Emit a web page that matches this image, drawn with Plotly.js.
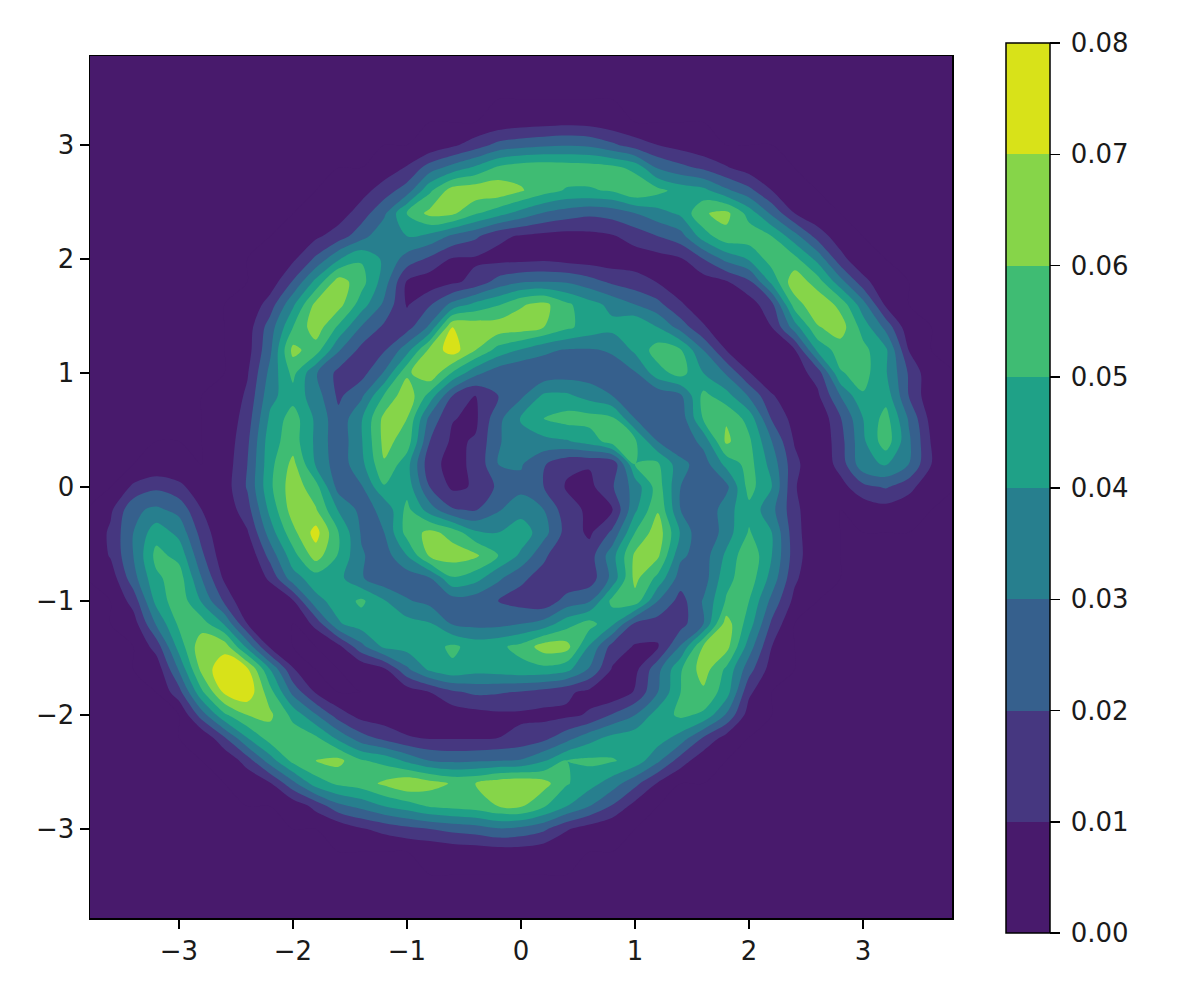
<!DOCTYPE html>
<html>
<head>
<meta charset="utf-8">
<script src="https://cdn.plot.ly/plotly-3.0.1.min.js"></script>
<style>html,body{margin:0;padding:0;background:#fff}</style>
</head>
<body>
<div id="graph" style="width:1196px;height:997px"></div>
<script>
// density, in units of 0.01
const xGrid = [-3.8,-3.6,-3.4,-3.2,-3,-2.8,-2.6,-2.4,-2.2,-2,-1.8,-1.6,-1.4,-1.2,-1,-0.8,-0.6,-0.4,-0.2,0,0.2,0.4,0.6,0.8,1,1.2,1.4,1.6,1.8,2,2.2,2.4,2.6,2.8,3,3.2,3.4,3.6,3.8];
const yGrid = [3.8,3.6,3.4,3.2,3,2.8,2.6,2.4,2.2,2,1.8,1.6,1.4,1.2,1,0.8,0.6,0.4,0.2,0,-0.2,-0.4,-0.6,-0.8,-1,-1.2,-1.4,-1.6,-1.8,-2,-2.2,-2.4,-2.6,-2.8,-3,-3.2,-3.4,-3.6,-3.8];
const density = [
[0,0,0,0,0,0,0,0,0,0,0,0,0,0,0,0,0,0,0,0,0,0,0,0,0,0,0,0,0,0,0,0,0,0,0,0,0,0,0],
[0,0,0,0,0,0,0,0,0,0,0,0,0,0,0,0,0,0,0,0,0,0,0,0,0,0,0,0,0,0,0,0,0,0,0,0,0,0,0],
[0,0,0,0,0,0,0,0,0,0,0,0,0,0,0,0,0,0,0,0,0,0,0,0,0,0,0,0,0,0,0,0,0,0,0,0,0,0,0],
[0,0,0,0,0,0,0,0,0,0,0,0,0,0,0,0,0,0,.3,.5,.6,.7,.6,.3,0,0,0,0,0,0,0,0,0,0,0,0,0,0,0],
[0,0,0,0,0,0,0,0,0,0,0,0,0,0,0,.2,.8,1.5,2.3,2.6,2.8,2.9,2.8,2.2,1.5,1,.6,.2,0,0,0,0,0,0,0,0,0,0,0],
[0,0,0,0,0,0,0,0,0,0,0,0,0,.4,1.1,2.5,3.4,4.2,5.2,5.6,5.7,5.6,5.5,5.3,4.7,2.9,2.3,1.8,1.1,.5,.1,0,0,0,0,0,0,0,0],
[0,0,0,0,0,0,0,0,0,0,0,.1,.6,1.5,2.5,4.8,6.5,6.7,6.7,6.1,5.4,4.9,4.9,5.1,5.9,5.3,4.6,4.3,3.2,2.3,1,.3,0,0,0,0,0,0,0],
[0,0,0,0,0,0,0,0,0,0,.1,.5,1.5,2.8,5.1,6.3,6.2,5.1,4.4,3.6,2.9,2.5,2.2,2.4,3,3.6,4.2,5.9,6.3,4.6,2.8,1,.2,0,0,0,0,0,0],
[0,0,0,0,0,0,0,0,0,.1,.8,1.5,2.6,3.8,4,3.7,2.8,2.2,1.2,.9,.7,.6,.7,.9,1.4,2,2.6,4.5,5.7,5.6,5,3.4,1.6,.4,0,0,0,0,0],
[0,0,0,0,0,0,0,0,.1,.8,2.2,3.9,4.9,3.8,2.6,1.8,.9,.85,.7,.7,.8,.6,.5,.4,.5,.6,.9,2,3.3,4.1,5.5,5.3,3.7,1.4,.1,0,0,0,0],
[0,0,0,0,0,0,0,0,.4,2.1,4.3,6.5,5.4,3.5,.9,.4,.8,1.3,2.4,2.9,3,2.9,2.4,1.8,1.4,.95,.5,.5,.9,1.8,4.3,6.7,5.5,3.4,1.4,.1,0,0,0],
[0,0,0,0,0,0,0,.1,1.5,3.8,6.3,6.4,4.5,2.8,.9,1.9,3.3,4.3,4.9,5.9,6.3,5.2,4.4,3.7,3,2.3,1.1,.5,.3,.5,1.7,5.5,6.8,5.7,3.4,.8,0,0,0],
[0,0,0,0,0,0,0,.5,2.5,5,6.6,4.8,2.9,1.8,1.6,3.2,7,6.7,6.6,6.5,6,5.2,4.6,4.3,5,4,2.6,1.1,.4,.2,1,3.5,5.9,6.5,4.6,2.7,.3,0,0],
[0,0,0,0,0,0,0,.6,2.8,6.3,5.5,3.1,1.7,1.9,3.6,6.3,7.5,6,4.6,3.9,3.2,2.9,2.9,3.1,4.2,5.5,5.1,3,1,.3,.2,.9,4.2,5.5,5.3,4.2,1,0,0],
[0,0,0,0,0,0,0,.9,3.3,5.3,3.1,1.7,1.6,3.1,5.8,6.8,4.9,3.3,2.4,2,2.3,2.5,2.5,2.6,2.9,4.6,5.4,4,2.9,1.05,.2,.5,1.4,4.9,5.4,4.1,1.9,.2,0],
[0,0,0,0,0,0,.1,1.2,3.7,4.6,3.5,1.8,2.8,5.1,6.7,4.6,2,1,2,2.8,4.2,4.2,3.6,3,2.5,2.3,2.8,5.3,4.4,2.9,1.1,.3,.8,3,4.9,4.6,2,.2,0],
[0,0,0,0,0,0,.2,1.5,4.2,5.5,3.8,2.3,3.9,6.3,6,2.7,1.05,.8,2.7,4.1,5,5.4,5.4,5.2,3,2.4,2.4,5.1,5.9,4.6,1.9,.6,.1,1.9,4,5.4,2.9,.6,0],
[0,0,0,0,0,0,.3,1.8,4.6,5.5,3.8,2.3,3.9,6.3,5.6,2,.8,1.1,2.9,3.6,3.7,3.9,4.4,5.5,5.2,3,2.3,3.3,6.2,5.2,3,.9,.05,1.6,3.8,5.6,3.2,.9,0],
[0,0,0,.1,.05,0,.4,2,4.7,6.3,3.9,2.4,3.7,5.9,4.4,1.3,.7,1.2,3,3.1,2.1,1.2,1.1,1.15,5,5.2,3.3,2.5,4.3,5.4,3.6,1.3,.1,1.4,3.7,4.1,3,1,0],
[0,0,1.2,1.8,1.3,.3,.5,2.1,4.8,6.6,5.4,2.6,2.9,4.9,4.6,2,.8,1.1,2.2,2.7,2,.9,.7,1.9,3.4,5.5,3,2.3,2.7,5.4,4,1.1,.05,.6,1.7,2.1,1.4,.1,0],
[0,.8,2.8,3.2,2.7,1,.3,1.6,4.3,6.5,6.1,3.9,2.7,3.2,5.3,3.5,2.1,1.9,2.9,3.6,3,1.4,.8,.95,3.8,5.9,3,2,3.6,4.7,3.3,1.3,.1,0,.3,.6,.2,0,0],
[0,1.2,3,4.6,3.7,1.6,.1,.9,3.5,5.7,7.4,5,2.9,3,5.4,6.3,5.6,4.2,4,4.6,3.4,1.6,.8,2.2,5,6.6,3.9,2,3.5,5.1,4,1.4,.1,0,0,0,0,0,0],
[0,1.1,3,5.3,4.7,2.2,.3,.1,2.4,4.6,6.5,4.9,3.1,2.5,4,6.2,6.5,6.2,5,3.8,2.2,1.1,1.5,3.6,6.2,6.2,3.2,2.5,4.2,5.8,4,1.5,.1,0,0,0,0,0,0],
[0,.4,2.6,4.8,5.5,3,.8,0,1.2,3.6,4.5,4.3,3.1,2.3,2.4,2.9,4.9,4.4,3.2,2.2,1.6,1.2,1.4,3.3,6.3,4.7,2.5,2.5,4.7,5.6,3.6,1.2,.05,0,0,0,0,0,0],
[0,0,1.4,4.3,5.7,3.9,1.8,0,.1,.9,3.7,4.4,5.2,4.1,3.1,2.7,2.5,2.4,2,1.6,1.3,2.4,2.9,5.3,5.6,3,1.6,3.1,5.1,5,2.7,.7,0,0,0,0,0,0,0],
[0,0,.5,3.1,5.2,5.5,3.9,1,.1,0,1.3,3.9,4.5,4.6,4.4,4.1,2.9,2.7,2.7,3,3.4,4.6,5.4,4.2,1.8,1.5,1.6,3,6.5,4.5,1.8,0,0,0,0,0,0,0,0],
[0,0,0,1.4,4.4,6.7,6.6,3.7,.8,0,0,.7,2.7,4.2,4.4,4.6,5.2,4.6,4.8,5.3,6.5,6.4,3.9,1.6,.9,.9,3.1,6.1,6.4,3.5,1,0,0,0,0,0,0,0,0],
[0,0,0,.3,3.1,6.3,7.8,7.2,4,1.1,0,0,.1,.8,2.8,4.2,4.8,4.4,4.5,4.7,4.7,4.3,2.9,.9,.7,2.7,4.9,6.5,4.8,2.4,.5,0,0,0,0,0,0,0,0],
[0,0,0,0,1.6,4.8,7.2,7.7,5.4,2.7,.9,0,0,0,.4,1,1.8,2.2,2.1,1.9,1.6,1.2,.7,.2,1.1,3,5,5.8,4.5,1.2,0,0,0,0,0,0,0,0,0],
[0,0,0,0,0,2.5,4.8,6,6.2,4.7,3.1,1.5,.6,.4,.3,.3,.4,.6,.8,.8,.7,.8,1.1,2.1,3,4.5,5.2,4.8,2.9,.5,0,0,0,0,0,0,0,0,0],
[0,0,0,0,0,.1,1.9,4,5.5,5.6,5.2,3.7,2.4,1.7,1.1,.9,.9,.9,1,1.3,1.7,2.6,3.6,4.3,4.6,4.5,3.6,1.9,.6,0,0,0,0,0,0,0,0,0,0],
[0,0,0,0,0,0,.1,1.5,3.5,5.3,6,6.3,5.1,4.7,3.8,3,2.8,2.9,3,3.1,3.9,5,5.2,5.1,4.6,3.2,1.5,.3,0,0,0,0,0,0,0,0,0,0,0],
[0,0,0,0,0,0,0,.1,.9,2.7,4.5,5.2,5.5,6.2,6.8,6.4,5.9,6,6.6,6.8,6.4,5.1,4.4,3.5,2.3,.9,0,0,0,0,0,0,0,0,0,0,0,0,0],
[0,0,0,0,0,0,0,0,0,.3,1.3,2.7,3.3,4,4.5,5.1,5.3,5.5,6,6.1,5.1,4,3,1.9,.6,0,0,0,0,0,0,0,0,0,0,0,0,0,0],
[0,0,0,0,0,0,0,0,0,0,0,.2,.9,1.3,1.7,2,2.3,2.5,2.9,2.7,2.2,1.1,.5,.1,0,0,0,0,0,0,0,0,0,0,0,0,0,0,0],
[0,0,0,0,0,0,0,0,0,0,0,0,0,0,0,.1,.3,.4,.5,.5,.3,.1,0,0,0,0,0,0,0,0,0,0,0,0,0,0,0,0,0],
[0,0,0,0,0,0,0,0,0,0,0,0,0,0,0,0,0,0,0,0,0,0,0,0,0,0,0,0,0,0,0,0,0,0,0,0,0,0,0],
[0,0,0,0,0,0,0,0,0,0,0,0,0,0,0,0,0,0,0,0,0,0,0,0,0,0,0,0,0,0,0,0,0,0,0,0,0,0,0],
[0,0,0,0,0,0,0,0,0,0,0,0,0,0,0,0,0,0,0,0,0,0,0,0,0,0,0,0,0,0,0,0,0,0,0,0,0,0,0]
];
const bandColors = ["#481a6c","#463780","#36608d","#277f8e","#1fa187","#3fbc73","#86d549","#d8e219"];
const axisTicks = [-3,-2,-1,0,1,2,3];
const barTicks = [0,0.01,0.02,0.03,0.04,0.05,0.06,0.07,0.08];

// one flat colour per 0.01 band
let colorscale = [];
bandColors.forEach(function(c,k){
colorscale.push([k/8,c]);
colorscale.push([(k+1)/8,c]);
});

let trace = {
type:"contour",
x:xGrid,
y:yGrid,
z:density.map(row => row.map(v => v/100)),
zmin:0,
zmax:0.08,
autocontour:false,
contours:{start:0,end:0.08,size:0.01,coloring:"fill",showlines:false},
line:{width:0,smoothing:0.9},
colorscale:colorscale,
hoverinfo:"skip",
colorbar:{
thicknessmode:"pixels",thickness:44,
lenmode:"pixels",len:890,
x:1.0626,xanchor:"left",xpad:0,
y:0.4988,yanchor:"middle",ypad:0,
tickmode:"array",tickvals:barTicks,ticktext:barTicks.map(v => "\u2009"+v.toFixed(2)),
ticks:"outside",ticklen:10,tickwidth:1.5,tickcolor:"#000",
outlinewidth:1.5,outlinecolor:"#000",
tickfont:{family:"DejaVu Sans",size:26,color:"#1a1a1a"}
}
};

function axis(){
return {
range:[-3.78,3.78],
tickmode:"array",
tickvals:axisTicks,
ticks:"outside",
ticklen:9,
tickwidth:1.5,
tickcolor:"#000",
showline:true,
linecolor:"#000",
linewidth:1.5,
mirror:true,
showgrid:false,
zeroline:false,
tickfont:{family:"DejaVu Sans",size:26,color:"#1a1a1a"}
};
}

let layout = {
width:1196,
height:997,
margin:{l:90,r:244,t:56,b:79,autoexpand:false},
paper_bgcolor:"#fff",
plot_bgcolor:"#fff",
xaxis:axis(),
yaxis:axis(),
showlegend:false
};

Plotly.newPlot("graph",[trace],layout,{displayModeBar:false,staticPlot:true});
</script>
</body>
</html>
